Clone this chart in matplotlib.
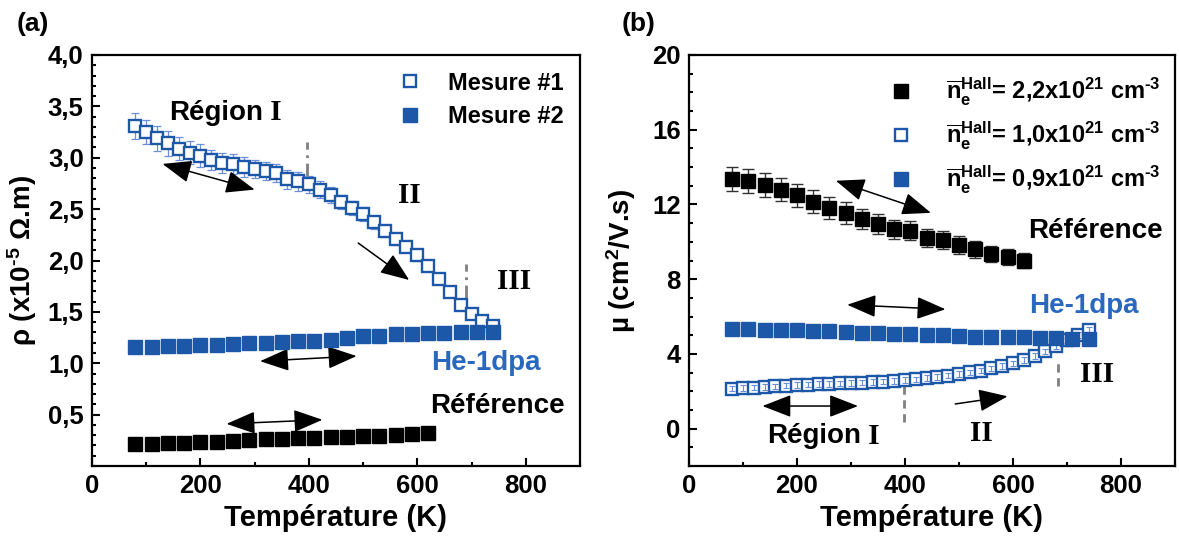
import numpy as np
import matplotlib
matplotlib.use("Agg")
import matplotlib.pyplot as plt
from matplotlib.ticker import MultipleLocator, FuncFormatter

plt.rcParams['font.family'] = ['Liberation Sans', 'DejaVu Sans']
plt.rcParams['font.weight'] = 'bold'
plt.rcParams['mathtext.fontset'] = 'custom'
plt.rcParams['mathtext.rm'] = 'Liberation Sans:bold'
plt.rcParams['mathtext.it'] = 'Liberation Sans:bold'
plt.rcParams['mathtext.bf'] = 'Liberation Sans:bold'
plt.rcParams['mathtext.default'] = 'rm'

# ---- données (a) : résistivité ----
T_m1 = np.arange(80, 741, 20)
rho_m1 = [3.31, 3.25, 3.19, 3.14, 3.09, 3.05, 3.02, 2.98, 2.95, 2.94, 2.91, 2.89,
          2.87, 2.85, 2.79, 2.77, 2.74, 2.69, 2.64, 2.57, 2.51, 2.45, 2.37, 2.29,
          2.21, 2.13, 2.05, 1.95, 1.82, 1.69, 1.57, 1.48, 1.41, 1.36]
rho_m1_err = [0.13, 0.12, 0.12, 0.12, 0.11, 0.11, 0.11, 0.10, 0.10, 0.10, 0.10, 0.09,
              0.09, 0.09, 0.09, 0.09, 0.08, 0.08, 0.08, 0.07, 0.07, 0.07, 0.06, 0.06,
              0.06, 0.05, 0.05, 0.04, 0.04, 0.03, 0.03, 0.03, 0.03, 0.03]
T_m2 = np.arange(80, 741, 30)
rho_m2 = [1.16, 1.16, 1.17, 1.17, 1.18, 1.18, 1.19, 1.20, 1.20, 1.21, 1.22, 1.22,
          1.23, 1.25, 1.27, 1.27, 1.28, 1.28, 1.29, 1.29, 1.30, 1.30, 1.30]
T_ref = np.arange(80, 621, 30)
rho_ref = [0.21, 0.21, 0.22, 0.22, 0.23, 0.23, 0.24, 0.25, 0.26, 0.26, 0.27, 0.27,
           0.28, 0.28, 0.29, 0.29, 0.30, 0.31, 0.32]

# ---- données (b) : mobilité ----
mu_ref = [13.38, 13.26, 13.04, 12.80, 12.48, 12.15, 11.81, 11.55, 11.22, 10.94,
          10.66, 10.60, 10.20, 10.10, 9.83, 9.60, 9.36, 9.17, 8.99]
mu_ref_err = [0.65, 0.64, 0.63, 0.62, 0.61, 0.60, 0.58, 0.57, 0.55, 0.54,
              0.52, 0.51, 0.50, 0.48, 0.47, 0.45, 0.44, 0.42, 0.40]
mu_m1 = [2.14, 2.17, 2.20, 2.23, 2.26, 2.30, 2.33, 2.36, 2.38, 2.40, 2.42, 2.44,
         2.46, 2.49, 2.52, 2.55, 2.59, 2.64, 2.70, 2.77, 2.84, 2.92, 3.01, 3.11,
         3.22, 3.35, 3.49, 3.66, 3.88, 4.13, 4.42, 4.72, 5.00, 5.27]
mu_m2 = [5.32, 5.32, 5.30, 5.28, 5.26, 5.24, 5.20, 5.17, 5.13, 5.10, 5.08, 5.05,
         5.02, 5.00, 4.95, 4.93, 4.92, 4.90, 4.88, 4.86, 4.84, 4.82, 4.82]

legend_a = ['Mesure #1', 'Mesure #2']
legend_b = [r'$\overline{\mathrm{n}}_{\mathrm{e}}^{\mathrm{Hall}}$= 2,2x10$^{21}$ cm$^{\text{-3}}$',
            r'$\overline{\mathrm{n}}_{\mathrm{e}}^{\mathrm{Hall}}$= 1,0x10$^{21}$ cm$^{\text{-3}}$',
            r'$\overline{\mathrm{n}}_{\mathrm{e}}^{\mathrm{Hall}}$= 0,9x10$^{21}$ cm$^{\text{-3}}$']

blue = '#1d57a8'
blue_txt = '#2a68bf'
blue_err = '#6b8fd8'

fig = plt.figure(figsize=(11.79, 5.47), dpi=100)
ax1 = fig.add_axes([92/1179, 1-466/547, 488/1179, 411/547])
ax2 = fig.add_axes([689/1179, 1-466/547, 486/1179, 411/547])


def style_axis(ax):
    for s in ax.spines.values():
        s.set_linewidth(1.6)
    ax.tick_params(which='both', direction='in', width=1.5, top=False, right=False,
                   labelsize=18.5, pad=6)
    ax.tick_params(which='major', length=6)
    ax.tick_params(which='minor', length=3)
    ax.set_xlim(0, 900)
    ax.xaxis.set_major_locator(MultipleLocator(200))
    ax.xaxis.set_minor_locator(MultipleLocator(100))
    for lab in ax.get_xticklabels() + ax.get_yticklabels():
        lab.set_fontweight('bold')
    ax.set_xlabel('Température (K)', fontsize=21, fontweight='bold', labelpad=4)


def arrow(ax, p0, p1, both=True):
    st = '<|-|>,head_length=0.9,head_width=0.35' if both else '-|>,head_length=0.9,head_width=0.35'
    ax.annotate('', xy=p1, xytext=p0,
                arrowprops=dict(arrowstyle=st, color='black', lw=1.1,
                                mutation_scale=20, shrinkA=0, shrinkB=0))


def region_label(ax, x, y, roman, prefix=''):
    if prefix:
        ax.text(x, y, prefix, fontsize=20, fontweight='bold', ha='right', va='center')
        ax.text(x, y, ' ' + roman, fontsize=21, fontweight='bold', ha='left', va='center',
                family='Liberation Serif')
    else:
        ax.text(x, y, roman, fontsize=21, fontweight='bold', ha='center', va='center',
                family='Liberation Serif')


# ---------------- (a) ----------------
style_axis(ax1)
ax1.set_ylim(0, 4.0)
ax1.set_yticks(np.arange(0.5, 4.01, 0.5))
ax1.yaxis.set_minor_locator(MultipleLocator(0.1))
ax1.yaxis.set_major_formatter(FuncFormatter(lambda v, p: f'{v:.1f}'.replace('.', ',')))
for lab in ax1.get_yticklabels():
    lab.set_fontweight('bold')
ax1.set_ylabel(r'ρ (x10$^{\text{-5}}$ Ω.m)', fontsize=20, fontweight='bold', labelpad=6)

ax1.errorbar(T_m1, rho_m1, yerr=rho_m1_err, fmt='none', ecolor=blue_err, elinewidth=0.9,
             capsize=3, capthick=0.9, zorder=2)
h1, = ax1.plot(T_m1, rho_m1, 's', ms=8.5, mfc='white', mec=blue, mew=1.7, zorder=3)
h2, = ax1.plot(T_m2, rho_m2, 's', ms=9.5, color=blue, mec=blue, zorder=4)
ax1.plot(T_ref, rho_ref, 's', ms=9.5, color='black', zorder=4)

ax1.legend([h1, h2], legend_a, loc='upper right', bbox_to_anchor=(1.0, 1.0), frameon=False,
           prop={'size': 17, 'weight': 'bold'}, handletextpad=0.6, labelspacing=0.45,
           borderaxespad=0.3)

region_label(ax1, 315, 3.44, 'I', prefix='Région')
region_label(ax1, 585, 2.63, 'II')
region_label(ax1, 779, 1.80, 'III')
ax1.text(727, 1.0, 'He-1dpa', color=blue_txt, fontsize=20, fontweight='bold',
         ha='center', va='center')
ax1.text(748, 0.58, 'Référence', fontsize=20, fontweight='bold', ha='center', va='center')

arrow(ax1, (130, 2.94), (300, 2.69))
arrow(ax1, (491, 2.17), (585, 1.81), both=False)
arrow(ax1, (310, 1.02), (488, 1.07))
arrow(ax1, (248, 0.41), (425, 0.45))
ax1.plot([397, 397], [2.81, 3.15], color='#808080', lw=2, ls=(0, (5, 2, 1, 2)), zorder=1)
ax1.plot([690, 690], [1.63, 1.97], color='#808080', lw=2, ls=(0, (5, 2, 1, 2)), zorder=1)

# ---------------- (b) ----------------
style_axis(ax2)
ax2.set_ylim(-2, 20)
ax2.set_yticks(np.arange(0, 21, 4))
ax2.yaxis.set_minor_locator(MultipleLocator(1))
for lab in ax2.get_yticklabels():
    lab.set_fontweight('bold')
ax2.set_ylabel('µ (cm$^{2}$/V.s)', fontsize=20, fontweight='bold', labelpad=10)

ax2.errorbar(T_ref, mu_ref, yerr=mu_ref_err, fmt='none', ecolor='#333333', elinewidth=1.0,
             capsize=4, capthick=1.0, zorder=2)
g1, = ax2.plot(T_ref, mu_ref, 's', ms=10, color='black', zorder=3)
g2, = ax2.plot(T_m1, mu_m1, 's', ms=8.5, mfc='white', mec=blue, mew=1.7, zorder=3)
ax2.errorbar(T_m1, mu_m1, yerr=0.15, fmt='none', ecolor=blue_err, elinewidth=0.8,
             capsize=2.5, capthick=0.8, zorder=3.5)
g3, = ax2.plot(T_m2, mu_m2, 's', ms=9.5, color=blue, zorder=4)

ax2.legend([g1, g2, g3], legend_b, loc='upper right', bbox_to_anchor=(1.0, 0.985),
           frameon=False, prop={'size': 17, 'weight': 'bold'}, handletextpad=0.9,
           labelspacing=0.5, borderaxespad=0.2)

ax2.text(753, 10.56, 'Référence', fontsize=20, fontweight='bold', ha='center', va='center')
ax2.text(732, 6.57, 'He-1dpa', color=blue_txt, fontsize=20, fontweight='bold',
         ha='center', va='center')
region_label(ax2, 756, 2.88, 'III')
region_label(ax2, 542, -0.28, 'II')
region_label(ax2, 318, -0.41, 'I', prefix='Région')

arrow(ax2, (272, 13.27), (448, 11.55))
arrow(ax2, (293, 6.63), (475, 6.39))
arrow(ax2, (136, 1.21), (313, 1.21))
arrow(ax2, (493, 1.32), (590, 1.73), both=False)
ax2.plot([399, 399], [0.33, 2.29], color='#808080', lw=2, ls=(0, (3, 2)), zorder=1)
ax2.plot([684, 684], [2.29, 3.68], color='#808080', lw=2, ls=(0, (3, 2)), zorder=1)

fig.text(17/1179, 1-24/547, '(a)', fontsize=19, fontweight='bold', va='center', ha='left')
fig.text(622/1179, 1-24/547, '(b)', fontsize=19, fontweight='bold', va='center', ha='left')

fig.savefig('out.png', dpi=100)
